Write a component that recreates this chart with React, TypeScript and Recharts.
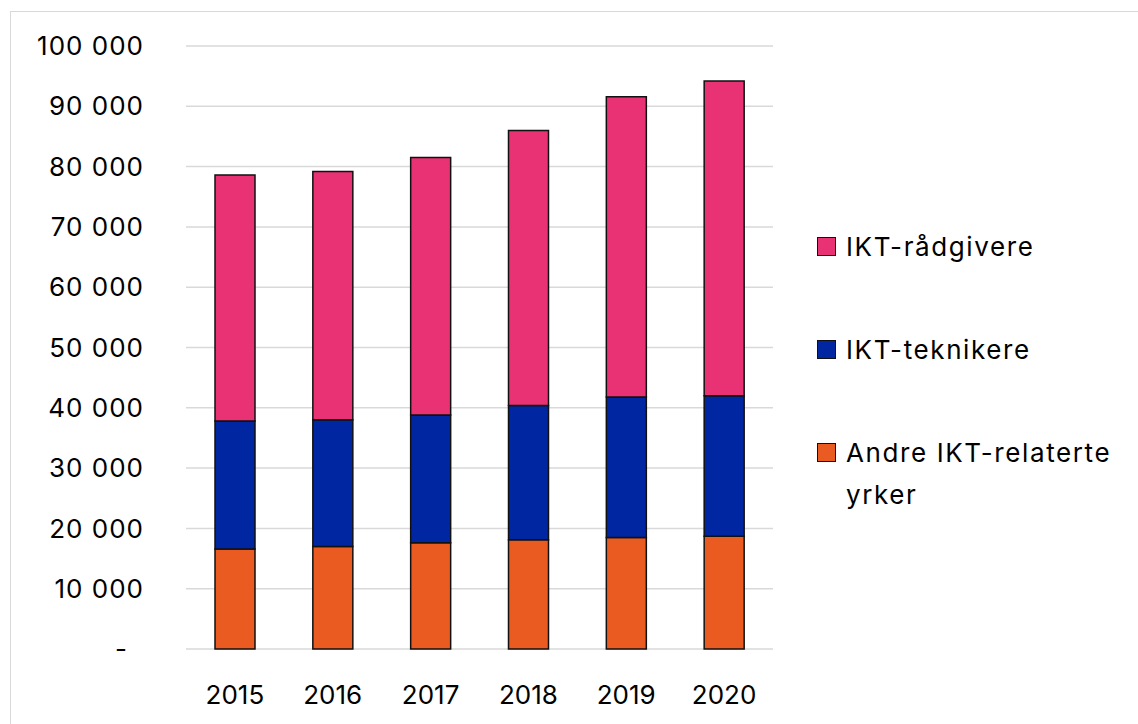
import { Bar, BarChart, CartesianGrid, Legend, XAxis, YAxis } from "recharts"

const years = ["2015", "2016", "2017", "2018", "2019", "2020"]
const andre = [16600, 17000, 17600, 18100, 18500, 18700]
const teknikere = [21200, 21000, 21200, 22300, 23300, 23300]
const radgivere = [40800, 41200, 42700, 45600, 49800, 52200]
const yTicks = [0, 10000, 20000, 30000, 40000, 50000, 60000, 70000, 80000, 90000, 100000]

const data = years.map((year, i) => ({
  year,
  andre: andre[i],
  teknikere: teknikere[i],
  radgivere: radgivere[i],
}))

const legendItems = [
  { name: "IKT-rådgivere", color: "#E83273" },
  { name: "IKT-teknikere", color: "#0026A1" },
  { name: "Andre IKT-relaterte yrker", color: "#EA5B22" },
]

const FONT = "Inter, sans-serif"

const formatTick = (v: number) =>
  v === 0 ? "-" : v.toLocaleString("en-US").replace(/,/g, " ")

function YTick(props: any) {
  const { x, y, payload } = props
  const zero = payload.value === 0
  return (
    <text
      x={x - 34 - (zero ? 16 : 0)}
      y={y}
      dy="0.35em"
      textAnchor="end"
      fill="#000"
      fontSize={26}
      fontFamily={FONT}
      letterSpacing={1}
    >
      {formatTick(payload.value)}
    </text>
  )
}

function XTick(props: any) {
  const { x, y, payload } = props
  return (
    <text x={x} y={y + 38} dy="0.35em" textAnchor="middle" fill="#000" fontSize={26} fontFamily={FONT}>
      {payload.value}
    </text>
  )
}

function LegendBox() {
  return (
    <div style={{ fontFamily: FONT, fontSize: 26, color: "#000", letterSpacing: 1.6 }}>
      {legendItems.map((item) => (
        <div key={item.name} style={{ display: "flex", alignItems: "flex-start", marginBottom: 61 }}>
          <div
            style={{
              width: 17,
              height: 17,
              marginTop: 11,
              marginRight: 10,
              background: item.color,
              border: "1.5px solid #111",
              flexShrink: 0,
            }}
          />
          <div style={{ width: 290, lineHeight: "42px" }}>{item.name}</div>
        </div>
      ))}
    </div>
  )
}

export default function App() {
  return (
    <div style={{ position: "absolute", left: 0, top: 0, width: 1138, height: 724, overflow: "hidden", background: "#fff" }}>
      <div
        style={{
          position: "absolute",
          left: 10,
          top: 11,
          width: 1128,
          height: 713,
          borderLeft: "1px solid #d9d9d9",
          borderTop: "1px solid #d9d9d9",
          boxSizing: "border-box",
        }}
      />
      <div style={{ position: "absolute", left: 0, top: 0 }}>
        <BarChart
          width={1138}
          height={724}
          data={data}
          margin={{ top: 46, right: 365, bottom: 0, left: 10 }}
          barSize={40}
        >
          <CartesianGrid vertical={false} stroke="#d9d9d9" strokeWidth={1.5} />
          <XAxis dataKey="year" axisLine={false} tickLine={false} height={75} tick={<XTick />} interval={0} />
          <YAxis
            domain={[0, 100000]}
            ticks={yTicks}
            interval={0}
            axisLine={false}
            tickLine={false}
            width={176}
            tick={<YTick />}
          />
          <Legend
            layout="horizontal"
            verticalAlign="middle"
            wrapperStyle={{ left: 817, top: 226, width: 320 }}
            content={() => <LegendBox />}
          />
          <Bar dataKey="andre" stackId="a" fill="#EA5B22" stroke="#111" strokeWidth={1.5} isAnimationActive={false} />
          <Bar dataKey="teknikere" stackId="a" fill="#0026A1" stroke="#111" strokeWidth={1.5} isAnimationActive={false} />
          <Bar dataKey="radgivere" stackId="a" fill="#E83273" stroke="#111" strokeWidth={1.5} isAnimationActive={false} />
        </BarChart>
      </div>
    </div>
  )
}
